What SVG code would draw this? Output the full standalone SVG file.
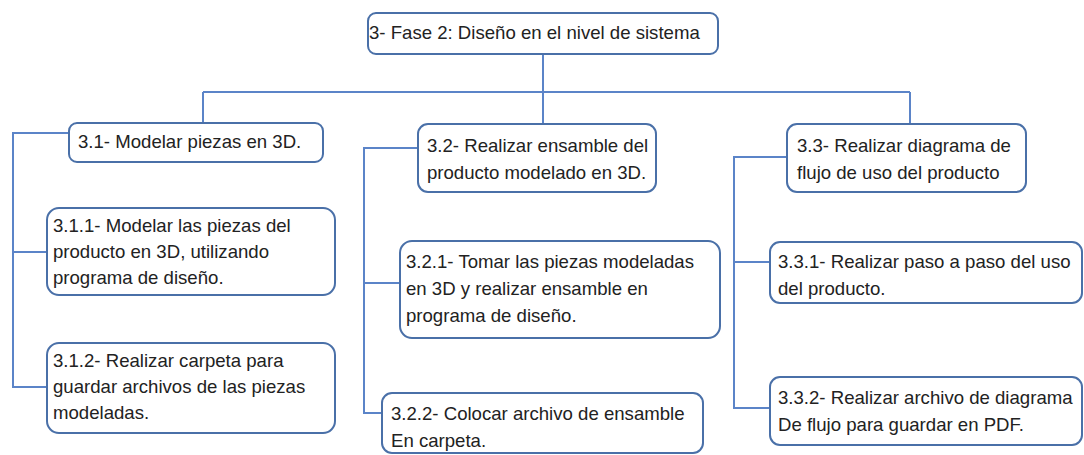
<svg xmlns="http://www.w3.org/2000/svg" width="1084" height="455" viewBox="0 0 1084 455">
<style>
.box{fill:#fff;stroke:#4a70a8;stroke-width:2}
.t{font-family:"Liberation Sans",Arial,sans-serif;font-size:18.6px;fill:#222}
.c{fill:none;stroke:#5b84c8;stroke-width:2}
</style>
<rect width="1084" height="455" fill="#fff"/>
<g id="connectors">
<path class="c" d="M543 54V92M203 92H910M203 92V123M543 92V124M910 92V124"/>
<path class="c" d="M69 133H13V387H47M13 252H47"/>
<path class="c" d="M418 148H364V413H382M364 283H400"/>
<path class="c" d="M787 157H734V408H770M734 262H770"/>
</g>
<g id="n3"><rect class="box" x="368" y="13" width="350" height="41" rx="8"/><text class="t" x="369" y="39">3- Fase 2: Diseño en el nivel de sistema</text></g>
<g id="n31"><rect class="box" x="69" y="123" width="254" height="39" rx="8"/><text class="t" x="78" y="148">3.1- Modelar piezas en 3D.</text></g>
<g id="n311"><rect class="box" x="47" y="208" width="288" height="87" rx="12"/><text class="t" x="53" y="232">3.1.1- Modelar las piezas del<tspan x="53" y="258">producto en 3D, utilizando</tspan><tspan x="53" y="284">programa de diseño.</tspan></text></g>
<g id="n312"><rect class="box" x="47" y="343" width="288" height="90" rx="12"/><text class="t" x="53" y="367">3.1.2- Realizar carpeta para<tspan x="53" y="393">guardar archivos de las piezas</tspan><tspan x="53" y="419">modeladas.</tspan></text></g>
<g id="n32"><rect class="box" x="418" y="124" width="238" height="68" rx="10"/><text class="t" x="427" y="152">3.2- Realizar ensamble del<tspan x="427" y="179">producto modelado en 3D.</tspan></text></g>
<g id="n321"><rect class="box" x="400" y="241" width="320" height="97" rx="12"/><text class="t" x="406" y="268">3.2.1- Tomar las piezas modeladas<tspan x="406" y="295">en 3D y realizar ensamble en</tspan><tspan x="406" y="322">programa de diseño.</tspan></text></g>
<g id="n322"><rect class="box" x="382" y="393" width="321" height="60" rx="10"/><text class="t" x="391" y="420">3.2.2- Colocar archivo de ensamble<tspan x="391" y="447">En carpeta.</tspan></text></g>
<g id="n33"><rect class="box" x="787" y="124" width="239" height="68" rx="10"/><text class="t" x="797" y="152">3.3- Realizar diagrama de<tspan x="797" y="179">flujo de uso del producto</tspan></text></g>
<g id="n331"><rect class="box" x="770" y="242" width="312" height="61" rx="10"/><text class="t" x="778" y="268">3.3.1- Realizar paso a paso del uso<tspan x="778" y="295">del producto.</tspan></text></g>
<g id="n332"><rect class="box" x="770" y="377" width="312" height="68" rx="10"/><text class="t" x="778" y="404">3.3.2- Realizar archivo de diagrama<tspan x="778" y="431">De flujo para guardar en PDF.</tspan></text></g>
</svg>
